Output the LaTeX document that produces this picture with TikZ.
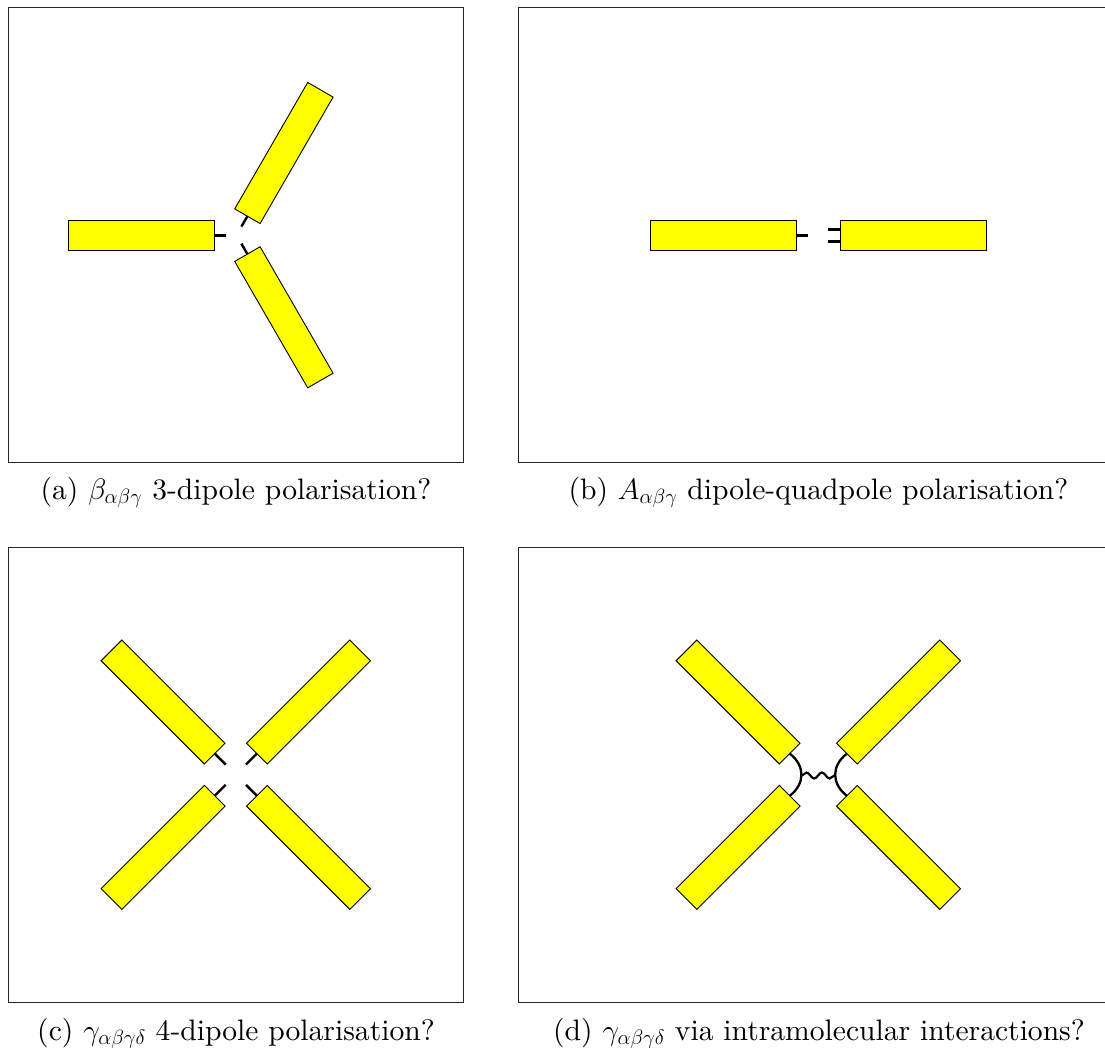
\RequirePackage{fix-cm}
\documentclass[tikz,border=0pt]{standalone}
\usepackage{fontspec}
\setmainfont{lmroman10-regular.otf}
\usetikzlibrary{calc,decorations.pathmorphing}
\definecolor{dipyellow}{rgb}{1,1,0}
\tikzset{
  dipole/.style={draw=black, fill=dipyellow, line width=0.9pt, minimum width=146pt, minimum height=29.3pt, inner sep=0pt, outer sep=0pt},
  bond/.style={line width=2.4pt},
  frame/.style={line width=1.1pt, draw=black!85},
  caption/.style={font=\fontsize{29.6}{35}\selectfont, anchor=base, inner sep=0pt},
}
\begin{document}
\begin{tikzpicture}[x=1pt,y=-1pt]
\useasboundingbox (0,0) rectangle (1105,1047);
% frames
\draw[frame] (8.3,7.5) rectangle (463.3,462.5);
\draw[frame] (1105,7.5) -- (518.3,7.5) -- (518.3,462.5) -- (1105,462.5);
\draw[frame] (8.3,547.7) rectangle (463.3,1002.7);
\draw[frame] (1105,547.7) -- (518.3,547.7) -- (518.3,1002.7) -- (1105,1002.7);
% (a)
\node[dipole] (a1) at (141.2,235.3) {};
\node[dipole, rotate=240] (a2) at (283.9,153) {};
\node[dipole, rotate=120] (a3) at (283.9,317.3) {};
\draw[bond] (a1.east) -- ($(a1.east)!-12pt!(a1.center)$);
\draw[bond] (a2.east) -- ($(a2.east)!-12pt!(a2.center)$);
\draw[bond] (a3.east) -- ($(a3.east)!-12pt!(a3.center)$);
% (b)
\node[dipole] (b1) at (723.8,235.3) {};
\node[dipole] (b2) at (913,235.3) {};
\draw[bond] (b1.east) -- ($(b1.east)!-11.6pt!(b1.center)$);
\draw[bond] ($(b2.west)+(0,-6)$) -- ++(-11.7,0);
\draw[bond] ($(b2.west)+(0,6)$) -- ++(-11.7,0);
% (c)
\node[dipole, rotate=-45] (c1) at (163.1,702) {};
\node[dipole, rotate=-135] (c2) at (308.5,702) {};
\node[dipole, rotate=45] (c3) at (163.1,847.4) {};
\node[dipole, rotate=135] (c4) at (308.5,847.4) {};
\foreach \n in {c1,c2,c3,c4}
  \draw[bond] (\n.east) -- ($(\n.east)!-15.5pt!(\n.center)$);
% (d)
\node[dipole, rotate=-45] (d1) at (738.1,702) {};
\node[dipole, rotate=-135] (d2) at (898.5,702) {};
\node[dipole, rotate=45] (d3) at (738.1,847.4) {};
\node[dipole, rotate=135] (d4) at (898.5,847.4) {};
\coordinate (wl) at (801.7,775.5);
\coordinate (wr) at (835,775.5);
\draw[bond, line width=2.3pt] (d1.east) .. controls +(15.6,12) and +(15.6,-12) .. (d3.east);
\draw[bond, line width=2.3pt] (d2.east) .. controls +(-15.6,12) and +(-15.6,-12) .. (d4.east);
\draw[line width=2.2pt, decorate, decoration={snake, amplitude=3pt, segment length=15.4pt}] (wl) -- (wr);
% captions
\node[caption] (capa) at (236,499.5) {(a) $\beta_{\alpha\beta\gamma}$ 3-dipole polarisation?};
\node[caption] (capb) at (818.5,499.5) {(b) $A_{\alpha\beta\gamma}$ dipole-quadpole polarisation?};
\node[caption] (capc) at (236,1040) {(c) $\gamma_{\alpha\beta\gamma\delta}$ 4-dipole polarisation?};
\node[caption] (capd) at (819,1040) {(d) $\gamma_{\alpha\beta\gamma\delta}$ via intramolecular interactions?};
\end{tikzpicture}
\end{document}
